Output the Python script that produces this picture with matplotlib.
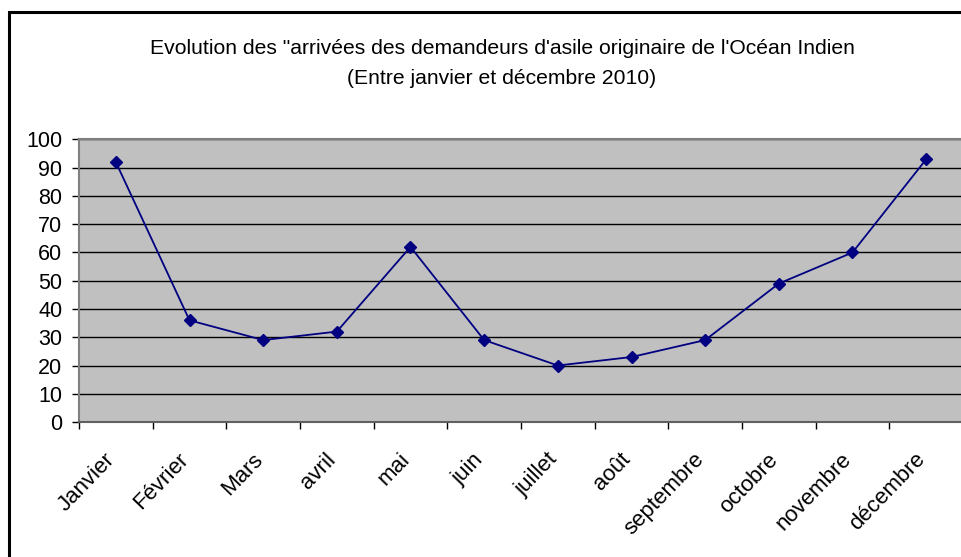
import matplotlib
matplotlib.use("Agg")
import matplotlib.pyplot as plt
from matplotlib.patches import Rectangle

months = ["Janvier", "Février", "Mars", "avril", "mai", "juin", "juillet",
          "août", "septembre", "octobre", "novembre", "décembre"]
values = [92, 36, 29, 32, 62, 29, 20, 23, 29, 49, 60, 93]
yticks = [0, 10, 20, 30, 40, 50, 60, 70, 80, 90, 100]
title_line1 = "Evolution des \"arrivées des demandeurs d'asile originaire de l'Océan Indien"
title_line2 = "(Entre janvier et décembre 2010)"

plt.rcParams['font.family'] = ['Liberation Sans', 'DejaVu Sans']

W, H = 962, 557
fig = plt.figure(figsize=(W / 100, H / 100), dpi=100)
fig.patch.set_facecolor('white')

# outer chart frame (right/bottom cut off)
fig.add_artist(Rectangle((8.5 / W, -0.1), 2.0, 1 - 12 / H + 0.1,
                         transform=fig.transFigure, fill=False,
                         edgecolor='black', lw=2.2))

left, right, top, bottom = 79, 963, 139.5, 422
ax = fig.add_axes([left / W, 1 - bottom / H, (right - left) / W, (bottom - top) / H])
ax.set_facecolor('#C0C0C0')

x = list(range(len(months)))
ax.plot(x, values, color='#000080', lw=1.3, marker='D', markersize=6.5,
        markerfacecolor='#000080', markeredgecolor='#000080', zorder=3)

ax.set_xlim(-0.5, len(months) - 0.5)
ax.set_ylim(0, 100)
ax.set_yticks(yticks)
ax.yaxis.grid(True, color='black', lw=1.0)
ax.set_axisbelow(True)

ax.set_xticks([i - 0.5 for i in range(len(months) + 1)], minor=False)
ax.set_xticklabels([])
ax.set_xticks(x, minor=True)
ax.set_xticklabels(months, minor=True, rotation=46, ha='right', va='baseline',
                   rotation_mode='anchor', fontsize=16)
ax.tick_params(axis='x', which='minor', length=0, pad=27.5)
ax.tick_params(axis='x', which='major', length=5, width=1, color='black', direction='out')
ax.tick_params(axis='y', length=5, width=1, color='black', direction='out', pad=7, labelsize=15.5)

for s in ['top', 'left']:
    ax.spines[s].set_color('#808080')
    ax.spines[s].set_linewidth(1.5)
ax.spines['bottom'].set_color('#606060')
ax.spines['bottom'].set_linewidth(1.5)
ax.spines['right'].set_visible(False)

fig.text(502 / W, 1 - 48 / H, title_line1, ha='center', va='center', fontsize=15.2)
fig.text(502 / W, 1 - 79 / H, title_line2, ha='center', va='center', fontsize=15.2)

fig.savefig("out.png", dpi=100)
